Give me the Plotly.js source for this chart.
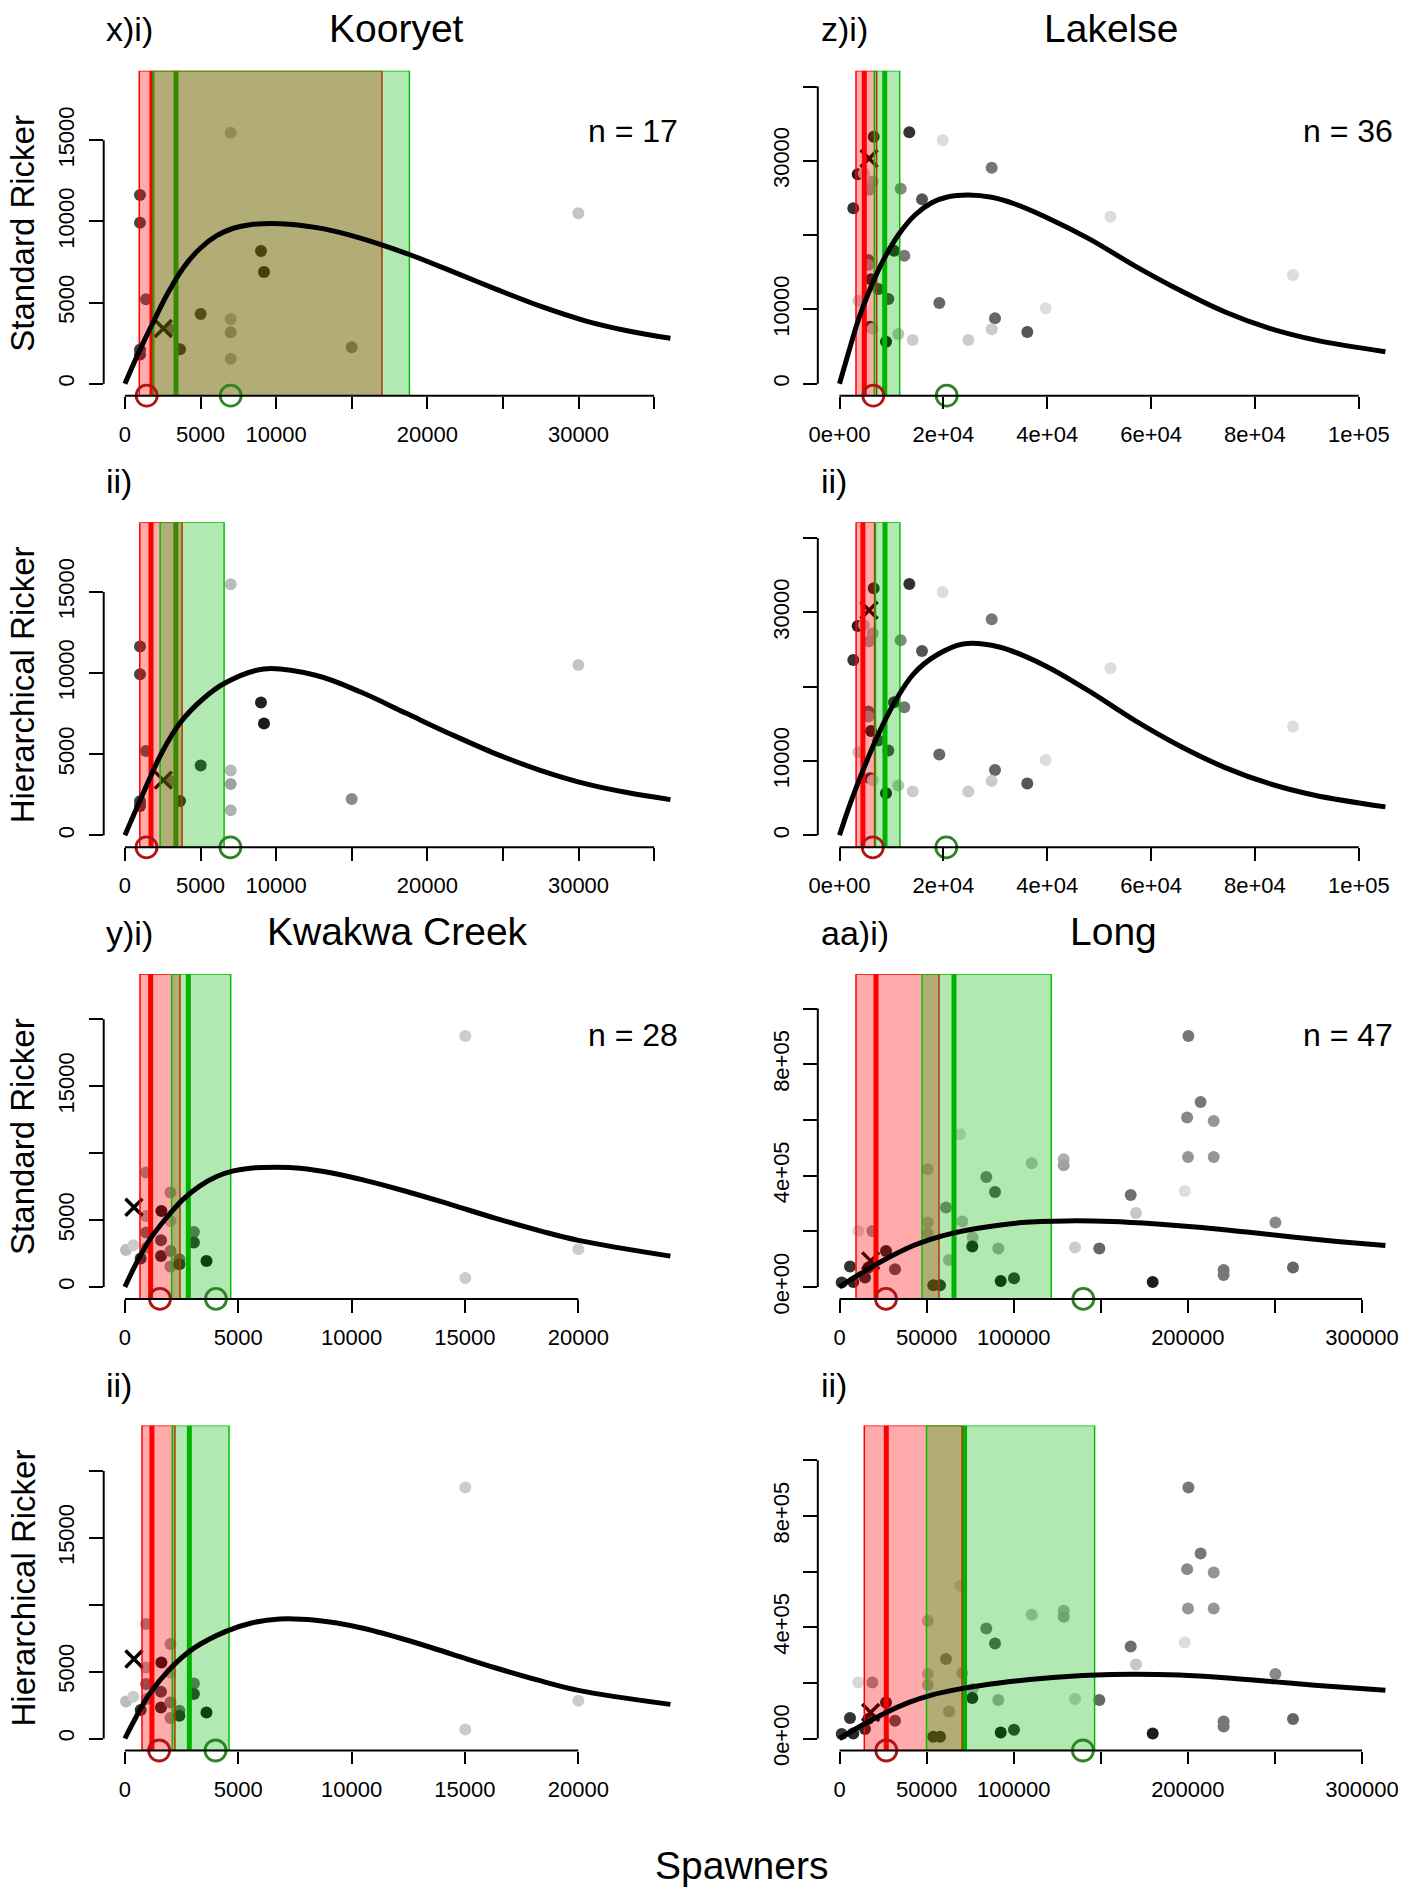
<!DOCTYPE html>
<html>
<head>
<meta charset="utf-8">
<script src="https://cdn.plot.ly/plotly-3.0.1.min.js"></script>
<style>html,body{margin:0;padding:0;background:#fff}</style>
</head>
<body>
<div id="chart" style="width:1413px;height:1889px"></div>
<script>
// ---------- Kooryet ----------
const kooryetS = [999, 999, 1395, 999, 999, 6997, 9001, 9200, 5013, 6997, 6997, 6997, 3644, 2983, 14999, 29993];
const kooryetR = [11629, 9922, 5200, 2100, 1800, 15468, 8178, 6884, 4295, 3987, 3167, 1541, 2120, 3352, 2243, 10500];
const kooryetShade = [70, 70, 90, 60, 60, 187, 34, 26, 56, 184, 160, 176, 40, 120, 138, 196];
const kooryetCross = [2540, 3400];
const kooryetStdCurveS = [0, 1000, 1880, 2762, 3865, 4967, 6069, 7170, 8274, 10300, 12685, 14888, 16984, 18816, 21561, 24537, 27520, 30503, 33300, 36078];
const kooryetStdCurveR = [0, 2100, 3800, 5450, 7150, 8330, 9120, 9580, 9800, 9860, 9620, 9160, 8560, 7960, 6950, 5830, 4760, 3860, 3250, 2800];
const kooryetHierCurveS = [0, 1283, 2474, 3666, 5159, 6649, 9187, 12613, 15594, 18575, 21561, 24537, 27520, 30503, 33300, 36078];
const kooryetHierCurveR = [0, 2750, 5150, 6950, 8400, 9400, 10250, 9860, 8830, 7530, 6230, 5020, 3990, 3170, 2620, 2200];
// [lower, estimate, upper]
const kooryetStdSgen = [952, 1790, 17000];
const kooryetStdSmsy = [1878, 3380, 18816];
const kooryetHierSgen = [985, 1726, 3783];
const kooryetHierSmsy = [2328, 3370, 6561];
// [Sgen point, Smsy point]
const kooryetStdPoints = [1441, 6997];
const kooryetHierPoints = [1430, 6977];
const kooryetXTicks = [0, 5000, 10000, 15000, 20000, 25000, 30000, 35000];
const kooryetXLabels = ['0', '5000', '10000', '', '20000', '', '30000', ''];
const kooryetYTicks = [0, 5000, 10000, 15000];
const kooryetYLabels = ['0', '5000', '10000', '15000'];

// ---------- Lakelse ----------
const lakelseS = [6586, 13441, 19873, 29309, 3505, 4700, 6400, 5700, 11785, 15887, 2657, 10495, 12478, 5546, 5546, 6066, 7472, 9398, 3620, 19218, 39700, 29944, 29309, 36164, 5873, 11323, 14096, 8954, 24803, 52166, 87329, 6400];
const lakelseR = [33244, 33836, 32759, 29071, 28183, 28300, 27200, 26100, 26245, 24818, 23607, 17901, 17227, 16649, 15976, 14051, 12746, 11400, 11171, 10861, 10150, 8802, 7321, 6958, 7672, 6689, 5882, 5653, 5882, 22477, 14630, 7400];
const lakelseShade = [40, 51, 221, 119, 30, 190, 170, 160, 136, 85, 51, 40, 119, 90, 150, 30, 60, 70, 200, 102, 221, 102, 204, 85, 40, 190, 204, 20, 204, 221, 221, 200];
const lakelseCross = [5700, 30300];
const lakelseStdCurveS = [0, 1695, 3620, 5546, 8126, 11323, 14539, 17754, 20951, 24803, 29309, 33796, 39573, 48084, 56770, 65454, 74139, 82823, 91508, 105122];
const lakelseStdCurveR = [0, 4091, 8573, 12167, 16205, 20013, 22705, 24361, 25168, 25397, 25087, 24186, 22477, 19500, 15900, 12611, 9690, 7456, 5900, 4307];
const lakelseHierCurveS = [0, 2080, 4680, 7279, 10765, 14231, 18564, 23782, 30734, 39400, 48084, 56770, 65454, 74139, 82823, 91508, 105122];
const lakelseHierCurveR = [0, 4300, 9000, 13300, 18100, 21700, 24200, 25750, 25350, 22900, 19400, 15500, 12050, 9150, 6950, 5400, 3822];
const lakelseStdSgen = [3177, 4776, 7163];
const lakelseStdSmsy = [6701, 8704, 11593];
const lakelseHierSgen = [3197, 4506, 6759];
const lakelseHierSmsy = [6932, 8762, 11631];
const lakelseStdPoints = [6509, 20643];
const lakelseHierPoints = [6413, 20566];
const lakelseXTicks = [0, 20000, 40000, 60000, 80000, 100000];
const lakelseXLabels = ['0e+00', '2e+04', '4e+04', '6e+04', '8e+04', '1e+05'];
const lakelseYTicks = [0, 10000, 20000, 30000, 40000];
const lakelseYLabels = ['0', '10000', '', '30000', ''];

// ---------- Kwakwa Creek ----------
const kwakwaS = [49, 371, 697, 935, 935, 935, 2008, 1610, 2008, 1592, 1592, 2008, 2008, 2404, 2404, 3044, 3044, 3599, 15016, 15016, 20005, 962];
const kwakwaR = [2765, 3117, 2122, 8550, 5306, 4066, 7055, 5680, 4933, 3490, 2317, 2691, 1525, 2070, 1697, 4111, 3318, 1943, 18760, 673, 2818, 2944];
const kwakwaShade = [187, 204, 50, 150, 170, 110, 160, 20, 185, 70, 40, 130, 150, 110, 40, 110, 50, 20, 204, 204, 204, 150];
const kwakwaCross = [400, 5950];
const kwakwaStdCurveS = [0, 520, 1107, 1844, 2576, 3313, 4049, 4782, 5518, 6696, 7724, 9193, 10370, 12391, 14380, 16365, 18355, 20005, 24063];
const kwakwaStdCurveR = [0, 1823, 3565, 5187, 6555, 7549, 8251, 8670, 8871, 8946, 8871, 8498, 8050, 7150, 6150, 5120, 4170, 3480, 2300];
const kwakwaHierCurveS = [0, 459, 1054, 2047, 3044, 4433, 5629, 6820, 8412, 10401, 12391, 14380, 16365, 18355, 20005, 24063];
const kwakwaHierCurveR = [0, 1500, 3250, 5300, 6750, 7990, 8650, 8930, 8830, 8280, 7380, 6330, 5270, 4300, 3600, 2550];
const kwakwaStdSgen = [666, 1137, 2430];
const kwakwaStdSmsy = [2063, 2798, 4667];
const kwakwaHierSgen = [754, 1192, 2207];
const kwakwaHierSmsy = [2088, 2843, 4593];
const kwakwaStdPoints = [1548, 4018];
const kwakwaHierPoints = [1512, 3997];
const kwakwaXTicks = [0, 5000, 10000, 15000, 20000];
const kwakwaXLabels = ['0', '5000', '10000', '15000', '20000'];
const kwakwaYTicks = [0, 5000, 10000, 15000, 20000];
const kwakwaYLabels = ['0', '5000', '', '15000', ''];

// ---------- Long ----------
const longS = [1263, 6029, 7923, 10794, 18832, 14641, 16536, 26698, 31866, 50640, 50640, 50640, 53860, 57700, 69185, 61147, 70506, 62870, 76477, 76247, 84285, 89280, 91175, 110351, 92554, 100190, 128724, 128724, 135213, 149165, 167193, 170236, 179824, 200321, 207326, 199575, 214847, 200092, 214847, 198256, 250270, 220530, 220530, 260378];
const longR = [15800, 73300, 18000, 201200, 201200, 33800, 69700, 129400, 63600, 423000, 231400, 193000, 6100, 6100, 548700, 285300, 235000, 97000, 177500, 145200, 395300, 341400, 138000, 444500, 21600, 31300, 458900, 437300, 141600, 138000, 330600, 265900, 18000, 901900, 664800, 608600, 596500, 467100, 467100, 345000, 231400, 61100, 43100, 69700];
const longShade = [51, 51, 40, 215, 150, 40, 50, 30, 80, 190, 190, 180, 40, 40, 215, 130, 180, 180, 180, 30, 120, 90, 170, 190, 20, 50, 175, 160, 204, 102, 110, 200, 30, 119, 119, 136, 150, 150, 150, 221, 136, 119, 119, 102];
const longCross = [17900, 93500];
const longStdCurveS = [0, 13950, 26870, 39846, 52765, 65740, 78660, 104553, 130447, 156340, 182236, 208073, 233967, 259860, 285756, 313434];
const longStdCurveR = [0, 55000, 101000, 141600, 171400, 194000, 210000, 231000, 237200, 235000, 226000, 213400, 197000, 179500, 163500, 148500];
const longHierCurveS = [0, 13950, 26870, 39846, 52765, 70907, 91634, 117470, 143366, 169260, 195153, 221047, 250270, 272840, 313434];
const longHierCurveR = [0, 51400, 93700, 129700, 156000, 180000, 199300, 216500, 227500, 231000, 228000, 218500, 203500, 191500, 173000];
const longStdSgen = [9474, 20957, 57128];
const longStdSmsy = [47367, 65740, 121606];
const longHierSgen = [14239, 26870, 70391];
const longHierSmsy = [49951, 71800, 146466];
const longStdPoints = [26698, 139979];
const longHierPoints = [26870, 139750];
const longXTicks = [0, 50000, 100000, 150000, 200000, 250000, 300000];
const longXLabels = ['0', '50000', '100000', '', '200000', '', '300000'];
const longYTicks = [0, 200000, 400000, 600000, 800000, 1000000];
const longYLabels = ['0e+00', '', '4e+05', '', '8e+05', ''];

// ---------- figure geometry ----------
const W = 1413, H = 1889;
const FONT = 'Liberation Sans, Arial, Helvetica, sans-serif';
const COLS = [[103.7, 676], [817.8, 1400]];
const ROW_TOP = 70.7, ROW_STEP = 451.6, ROW_H = 325;

const panels = [
  {col: 0, row: 0, S: kooryetS, R: kooryetR, shade: kooryetShade, cross: kooryetCross,
   cS: kooryetStdCurveS, cR: kooryetStdCurveR, sgen: kooryetStdSgen, smsy: kooryetStdSmsy, pts: kooryetStdPoints,
   xr: [-1402, 36448], yr: [-739.5, 19289], xt: kooryetXTicks, xl: kooryetXLabels, yt: kooryetYTicks, yl: kooryetYLabels},
  {col: 1, row: 0, S: lakelseS, R: lakelseR, shade: lakelseShade, cross: lakelseCross,
   cS: lakelseStdCurveS, cR: lakelseStdCurveR, sgen: lakelseStdSgen, smsy: lakelseStdSmsy, pts: lakelseStdPoints,
   xr: [-4179, 107934], yr: [-1615, 42127], xt: lakelseXTicks, xl: lakelseXLabels, yt: lakelseYTicks, yl: lakelseYLabels},
  {col: 0, row: 1, S: kooryetS, R: kooryetR, shade: kooryetShade, cross: kooryetCross,
   cS: kooryetHierCurveS, cR: kooryetHierCurveR, sgen: kooryetHierSgen, smsy: kooryetHierSmsy, pts: kooryetHierPoints,
   xr: [-1402, 36448], yr: [-739.5, 19289], xt: kooryetXTicks, xl: kooryetXLabels, yt: kooryetYTicks, yl: kooryetYLabels},
  {col: 1, row: 1, S: lakelseS, R: lakelseR, shade: lakelseShade, cross: lakelseCross,
   cS: lakelseHierCurveS, cR: lakelseHierCurveR, sgen: lakelseHierSgen, smsy: lakelseHierSmsy, pts: lakelseHierPoints,
   xr: [-4179, 107934], yr: [-1615, 42127], xt: lakelseXTicks, xl: lakelseXLabels, yt: lakelseYTicks, yl: lakelseYLabels},
  {col: 0, row: 2, S: kwakwaS, R: kwakwaR, shade: kwakwaShade, cross: kwakwaCross,
   cS: kwakwaStdCurveS, cR: kwakwaStdCurveR, sgen: kwakwaStdSgen, smsy: kwakwaStdSmsy, pts: kwakwaStdPoints,
   xr: [-935, 24310], yr: [-897, 23393], xt: kwakwaXTicks, xl: kwakwaXLabels, yt: kwakwaYTicks, yl: kwakwaYLabels},
  {col: 1, row: 2, S: longS, R: longR, shade: longShade, cross: longCross,
   cS: longStdCurveS, cR: longStdCurveR, sgen: longStdSgen, smsy: longStdSmsy, pts: longStdPoints,
   xr: [-12459, 321812], yr: [-43119, 1124685], xt: longXTicks, xl: longXLabels, yt: longYTicks, yl: longYLabels},
  {col: 0, row: 3, S: kwakwaS, R: kwakwaR, shade: kwakwaShade, cross: kwakwaCross,
   cS: kwakwaHierCurveS, cR: kwakwaHierCurveR, sgen: kwakwaHierSgen, smsy: kwakwaHierSmsy, pts: kwakwaHierPoints,
   xr: [-935, 24310], yr: [-897, 23393], xt: kwakwaXTicks, xl: kwakwaXLabels, yt: kwakwaYTicks, yl: kwakwaYLabels},
  {col: 1, row: 3, S: longS, R: longR, shade: longShade, cross: longCross,
   cS: longHierCurveS, cR: longHierCurveR, sgen: longHierSgen, smsy: longHierSmsy, pts: longHierPoints,
   xr: [-12459, 321812], yr: [-43119, 1124685], xt: longXTicks, xl: longXLabels, yt: longYTicks, yl: longYLabels}
];

const RED = '#FF0000', RED_FILL = 'rgba(255,0,0,0.33)';
const GREEN = '#00B400', GREEN_EDGE = '#00C000', GREEN_FILL = 'rgba(0,180,0,0.30)';

const traces = [];
const layout = {
  width: W, height: H,
  margin: {l: 0, r: 0, t: 0, b: 0},
  paper_bgcolor: '#ffffff', plot_bgcolor: 'rgba(0,0,0,0)',
  showlegend: false, hovermode: false,
  font: {family: FONT, color: '#000'},
  shapes: [], annotations: []
};

panels.forEach((p, i) => {
  const n = i + 1;
  const xa = n === 1 ? 'x' : 'x' + n;
  const ya = n === 1 ? 'y' : 'y' + n;
  const top = ROW_TOP + ROW_STEP * p.row, bottom = top + ROW_H;
  const [c0, c1] = COLS[p.col];
  const [y0, y1] = p.yr;

  layout[n === 1 ? 'xaxis' : 'xaxis' + n] = {
    domain: [c0 / W, c1 / W], range: p.xr, anchor: ya,
    tickmode: 'array', tickvals: p.xt, ticktext: p.xl,
    ticks: 'outside', ticklen: 12.6, tickwidth: 2, tickcolor: '#000',
    ticklabelstandoff: 6,
    showline: false, showgrid: false, zeroline: false, fixedrange: true,
    tickfont: {family: FONT, size: 22, color: '#000'}
  };
  layout[n === 1 ? 'yaxis' : 'yaxis' + n] = {
    domain: [1 - bottom / H, 1 - top / H], range: p.yr, anchor: xa,
    tickmode: 'array', tickvals: p.yt, ticktext: p.yl, tickangle: -90,
    ticks: 'outside', ticklen: 13.5, tickwidth: 2, tickcolor: '#000',
    ticklabelstandoff: 6,
    showline: false, showgrid: false, zeroline: false, fixedrange: true,
    tickfont: {family: FONT, size: 22, color: '#000'}
  };

  // axis lines spanning the first to last tick
  layout.shapes.push({type: 'line', xref: xa, yref: ya + ' domain',
    x0: p.xt[0], x1: p.xt[p.xt.length - 1], y0: 0, y1: 0, line: {color: '#000', width: 2}});
  layout.shapes.push({type: 'line', xref: xa + ' domain', yref: ya,
    x0: 0, x1: 0, y0: p.yt[0], y1: p.yt[p.yt.length - 1], line: {color: '#000', width: 2}});

  const base = {xaxis: xa, yaxis: ya, hoverinfo: 'skip', showlegend: false};

  // spawner-recruit observations
  traces.push(Object.assign({}, base, {
    type: 'scatter', mode: 'markers', x: p.S, y: p.R,
    marker: {size: 12, color: p.shade.map(g => `rgb(${g},${g},${g})`), line: {width: 0}}
  }));
  traces.push(Object.assign({}, base, {
    type: 'scatter', mode: 'markers', x: [p.cross[0]], y: [p.cross[1]],
    marker: {symbol: 'x-thin-open', size: 17, line: {width: 3.5, color: '#000'}, color: '#000'}
  }));
  // Smsy estimate line (sits beneath the Sgen band)
  traces.push(Object.assign({}, base, {
    type: 'scatter', mode: 'lines', x: [p.smsy[1], p.smsy[1]], y: [y0, y1],
    line: {color: GREEN, width: 5}
  }));
  // Sgen interval band and estimate
  traces.push(Object.assign({}, base, {
    type: 'scatter', mode: 'lines', fill: 'toself', fillcolor: RED_FILL,
    x: [p.sgen[0], p.sgen[2], p.sgen[2], p.sgen[0], p.sgen[0]], y: [y0, y0, y1, y1, y0],
    line: {color: RED, width: 1.5}
  }));
  traces.push(Object.assign({}, base, {
    type: 'scatter', mode: 'lines', x: [p.sgen[1], p.sgen[1]], y: [y0, y1],
    line: {color: RED, width: 5}
  }));
  // Smsy interval band
  traces.push(Object.assign({}, base, {
    type: 'scatter', mode: 'lines', fill: 'toself', fillcolor: GREEN_FILL,
    x: [p.smsy[0], p.smsy[2], p.smsy[2], p.smsy[0], p.smsy[0]], y: [y0, y0, y1, y1, y0],
    line: {color: GREEN_EDGE, width: 1.5}
  }));
  // fitted Ricker curve
  traces.push(Object.assign({}, base, {
    type: 'scatter', mode: 'lines', x: p.cS, y: p.cR,
    line: {color: '#000', width: 5, shape: 'spline', smoothing: 1}
  }));
  // benchmark markers on the spawner axis
  traces.push(Object.assign({}, base, {
    type: 'scatter', mode: 'markers', x: p.pts, y: [y0, y0], cliponaxis: false,
    marker: {symbol: 'circle-open', size: 21, color: ['#B01414', '#2E8424'], line: {width: 2.8}}
  }));
});

function ann(text, x, y, size, xanchor, extra) {
  layout.annotations.push(Object.assign({
    text: text, xref: 'paper', yref: 'paper', x: x / W, y: 1 - y / H,
    xanchor: xanchor, yanchor: 'middle', showarrow: false,
    font: {family: FONT, size: size, color: '#000'}
  }, extra || {}));
}

ann('x)i)', 103.7, 29.3, 34, 'left');
ann('Kooryet', 396.8, 28, 39, 'center');
ann('z)i)', 818.7, 29.3, 34, 'left');
ann('Lakelse', 1111, 28, 39, 'center');
ann('ii)', 103.7, 481, 34, 'left');
ann('ii)', 818.7, 481, 34, 'left');
ann('y)i)', 103.7, 933, 34, 'left');
ann('Kwakwa Creek', 398, 931.7, 39, 'center');
ann('aa)i)', 818.7, 933, 34, 'left');
ann('Long', 1113, 931.7, 39, 'center');
ann('ii)', 103.7, 1384.7, 34, 'left');
ann('ii)', 818.7, 1384.7, 34, 'left');
ann('n = 17', 680, 131, 32, 'right');
ann('n = 36', 1394.5, 131, 32, 'right');
ann('n = 28', 680, 1035, 32, 'right');
ann('n = 47', 1394.5, 1035, 32, 'right');
ann('Standard Ricker', 22.5, 233.2, 33, 'center', {textangle: -90});
ann('Hierarchical Ricker', 22.5, 684.8, 33, 'center', {textangle: -90});
ann('Standard Ricker', 22.5, 1136.4, 33, 'center', {textangle: -90});
ann('Hierarchical Ricker', 22.5, 1588, 33, 'center', {textangle: -90});
ann('Spawners', 742, 1865, 39, 'center');

Plotly.newPlot('chart', traces, layout, {staticPlot: true, displayModeBar: false});
</script>
</body>
</html>
